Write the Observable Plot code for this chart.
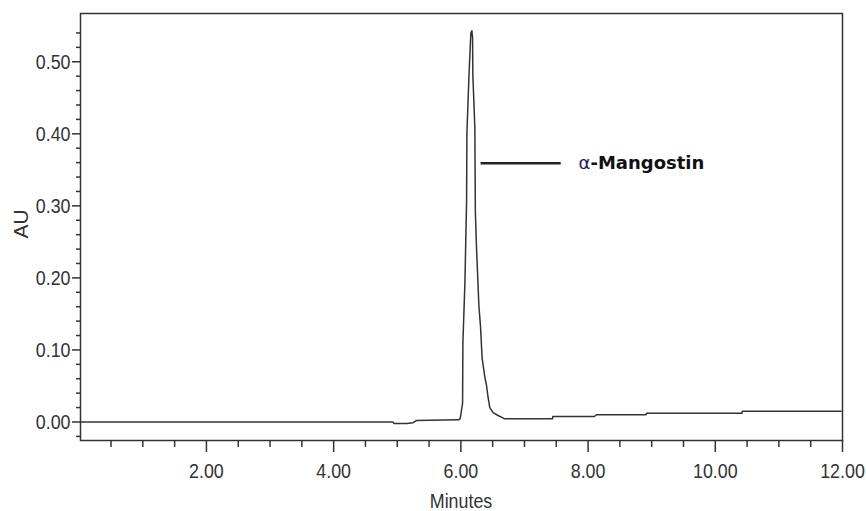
<!DOCTYPE html>
<html>
<head>
<meta charset="utf-8">
<script src="https://cdn.jsdelivr.net/npm/d3@7"></script>
<script src="https://cdn.jsdelivr.net/npm/@observablehq/plot@0.6"></script>
<style>
  html, body { margin: 0; padding: 0; background: #fff; }
  #chart svg { display: block; }
</style>
</head>
<body>
<div id="chart"></div>
<script>
// Chromatogram trace (minutes, AU)
const times = [0.02, 4.90, 4.93, 4.95, 5.05, 5.15, 5.25, 5.30, 5.95, 5.97, 5.99, 6.027, 6.032, 6.064, 6.09, 6.095, 6.127, 6.157, 6.173, 6.184, 6.188, 6.22, 6.228, 6.247, 6.283, 6.31, 6.334, 6.377, 6.403, 6.428, 6.455, 6.507, 6.585, 6.69, 7.44, 7.445, 8.10, 8.13, 8.91, 8.92, 10.42, 10.425, 11.98];
const au    = [0.000, 0.000, 0.000, -0.002, -0.002, -0.002, -0.001, 0.002, 0.003, 0.003, 0.005, 0.026, 0.110, 0.194, 0.307, 0.400, 0.480, 0.540, 0.543, 0.533, 0.483, 0.408, 0.291, 0.240, 0.162, 0.131, 0.089, 0.062, 0.051, 0.034, 0.020, 0.013, 0.009, 0.0044, 0.0044, 0.0076, 0.0076, 0.010, 0.010, 0.0122, 0.0122, 0.015, 0.015];

const xMajorTicks = [2, 4, 6, 8, 10, 12];
const xMinorTicks = [0.5, 1, 1.5, 2.5, 3, 3.5, 4.5, 5, 5.5, 6.5, 7, 7.5, 8.5, 9, 9.5, 10.5, 11, 11.5];
const yMajorTicks = [0, 0.1, 0.2, 0.3, 0.4, 0.5];
const yMinorTicks = [-0.02, 0.02, 0.04, 0.06, 0.08, 0.12, 0.14, 0.16, 0.18, 0.22, 0.24, 0.26, 0.28, 0.32, 0.34, 0.36, 0.38, 0.42, 0.44, 0.46, 0.48, 0.52, 0.54];

const xLabel = "Minutes";
const yLabel = "AU";

// Peak annotation
const peakLabel = "α-Mangostin";
const leaderX1 = 6.31, leaderX2 = 7.57, leaderY = 0.359, labelX = 7.85;

const trace = times.map((t, i) => ({t, v: au[i]}));
const FONT = "'Liberation Sans', Arial, sans-serif";
const SQUEEZE = 0.85;

const chart = Plot.plot({
  width: 866,
  height: 511,
  marginLeft: 80,
  marginRight: 24,
  marginTop: 13,
  marginBottom: 71,
  style: {fontFamily: FONT, fontSize: "21px", color: "#333", background: "#fff"},
  x: {domain: [0.02, 12]},
  y: {domain: [-0.0257, 0.567]},
  marks: [
    Plot.frame({stroke: "#333", strokeWidth: 1.5}),
    Plot.axisX({ticks: xMinorTicks, tickSize: 7, text: null, stroke: "#333", strokeWidth: 1.5}),
    Plot.axisX({ticks: xMajorTicks, tickSize: 12, tickPadding: 11, tickFormat: d3.format(".2f"), stroke: "#333", strokeWidth: 1.5, label: null, fill: "#333", className: "squeeze"}),
    Plot.axisY({ticks: yMinorTicks, tickSize: 4, text: null, stroke: "#333", strokeWidth: 1.5}),
    Plot.axisY({ticks: yMajorTicks, tickSize: 8, tickPadding: 2, tickFormat: d3.format(".2f"), stroke: "#333", strokeWidth: 1.5, label: null, fill: "#333", className: "squeeze"}),
    Plot.line(trace, {x: "t", y: "v", stroke: "#333", strokeWidth: 1.5}),
    Plot.link([{x1: leaderX1, x2: leaderX2, y: leaderY}], {x1: "x1", x2: "x2", y1: "y", y2: "y", stroke: "#222", strokeWidth: 2.5}),
    Plot.text([{x: labelX, y: leaderY, s: peakLabel}], {x: "x", y: "y", text: "s", textAnchor: "start", fontSize: 18, fontWeight: "bold", fontFamily: "'DejaVu Sans', sans-serif", fill: "#111", className: "peaklabel"})
  ]
});

const svg = d3.select(chart);
// condense tick labels horizontally
svg.selectAll("g.squeeze text").each(function() {
  const t = this.getAttribute("transform") || "";
  this.setAttribute("transform", t + ` scale(${SQUEEZE},1)`);
  // keep position: scale around anchor by compensating x
  const x = +(this.getAttribute("x") || 0);
  if (x) this.setAttribute("x", x / SQUEEZE);
});
// make the Greek letter regular weight, dark navy
svg.selectAll("g.peaklabel text").each(function() {
  const s = this.textContent;
  this.textContent = "";
  const t1 = document.createElementNS("http://www.w3.org/2000/svg", "tspan");
  t1.setAttribute("font-weight", "normal");
  t1.setAttribute("fill", "#1c1c5a");
  t1.textContent = s.slice(0, 1);
  const t2 = document.createElementNS("http://www.w3.org/2000/svg", "tspan");
  t2.textContent = s.slice(1);
  this.appendChild(t1);
  this.appendChild(t2);
});
svg.append("text")
  .attr("transform", "translate(20,224) rotate(-90)")
  .attr("text-anchor", "middle")
  .attr("dominant-baseline", "central")
  .attr("fill", "#333")
  .style("font-family", FONT)
  .style("font-size", "21px")
  .text(yLabel);
svg.append("text")
  .attr("transform", `translate(461,500) scale(${SQUEEZE},1)`)
  .attr("text-anchor", "middle")
  .attr("dominant-baseline", "central")
  .attr("fill", "#333")
  .style("font-family", FONT)
  .style("font-size", "21px")
  .text(xLabel);

document.getElementById("chart").appendChild(chart);
</script>
</body>
</html>
